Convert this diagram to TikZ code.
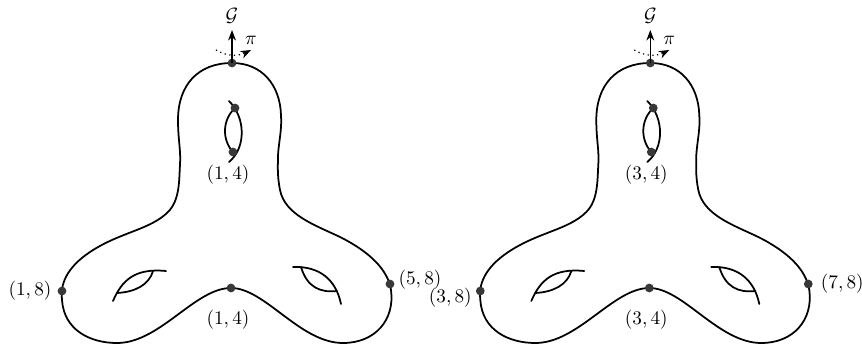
\documentclass[tikz,border=0pt]{standalone}
\usetikzlibrary{arrows.meta}
\begin{document}
\begin{tikzpicture}[x=0.57pt,y=-0.57pt,
  surf/.style={line width=1pt, line join=round, line cap=round},
  dotnode/.style={circle, fill=black!78, inner sep=0pt, minimum size=5pt},
  lbl/.style={inner sep=0pt, font=\fontsize{10.5}{12}\selectfont},
  uparrow/.style={line width=0.9pt, -{Stealth[length=6pt,width=4.5pt]}},
  rotarrow/.style={line width=0.7pt, dotted, -{Stealth[length=6pt,width=4.5pt]}}]
\useasboundingbox (0,0) rectangle (862,348);
\foreach \dx/\p/\a/\l/\lx/\ly/\r/\rx/\ry in
  {0/L/1/{(1,8)}/30/291/{(5,8)}/420/280,
   418.3/R/3/{(3,8)}/32/298/{(7,8)}/424/284}{
\begin{scope}[shift={(\dx,0)}]
  % outline of the surface
  \draw[surf] (232,63) .. controls (198,63) and (178,85) .. (178,120)
    .. controls (178,140) and (181,150) .. (180,165)
    .. controls (179,180) and (180,200) .. (168,212)
    .. controls (150,230) and (120,232) .. (90,252)
    .. controls (66,268) and (60,285) .. (62,300)
    .. controls (64,330) and (90,343) .. (117,343)
    .. controls (160,343) and (195,288) .. (231,288)
    .. controls (265,288) and (300,343) .. (343,343)
    .. controls (375,343) and (395,320) .. (391,290)
    .. controls (388,270) and (370,252) .. (340,237)
    .. controls (315,225) and (285,215) .. (280,190)
    .. controls (277,175) and (278,165) .. (278,155)
    .. controls (279,140) and (282,130) .. (281,115)
    .. controls (280,85) and (262,63) .. (232,63) -- cycle;
  % top handle
  \draw[surf] (229,101) .. controls (246,118) and (246,148) .. (229,162);
  \draw[surf] (235,108) .. controls (222,120) and (222,140) .. (233,152);
  % lower-left handle
  \draw[surf] (113,301) .. controls (122,280) and (135,268) .. (166,271);
  \draw[surf] (117,293) .. controls (135,292) and (149,285) .. (153,271);
  % lower-right handle
  \draw[surf] (293,267) .. controls (320,266) and (336,280) .. (341,304);
  \draw[surf] (301,267) .. controls (307,287) and (320,293) .. (337,291);
  % marked points
  \node[dotnode] (top\p) at (232,63) {};
  \node[dotnode] (ha\p) at (235,108) {};
  \node[dotnode] (hb\p) at (233,152) {};
  \node[dotnode] (lft\p) at (62,291) {};
  \node[dotnode] (mid\p) at (231,288) {};
  \node[dotnode] (rgt\p) at (390,284) {};
  % labels
  \node[lbl] (lhb\p) at (228,175) {$(\a,4)$};
  \node[lbl] (lmid\p) at (228,320) {$(\a,4)$};
  \node[lbl] (llft\p) at (\lx,\ly) {$\l$};
  \node[lbl] (lrgt\p) at (\rx,\ry) {$\r$};
  % arrows at the top
  \coordinate (gt\p) at (232,30);
  \coordinate (ds\p) at (216,50);
  \coordinate (de\p) at (251,50);
  \draw[uparrow] (top\p.center) -- (gt\p);
  \draw[rotarrow] (ds\p) .. controls (228,57) and (239,56) .. (de\p);
  \node[lbl] (G\p) at (232,16) {$\mathcal{G}$};
  \node[lbl] (pi\p) at (251,40) {$\pi$};
\end{scope}
}
\end{tikzpicture}
\end{document}
